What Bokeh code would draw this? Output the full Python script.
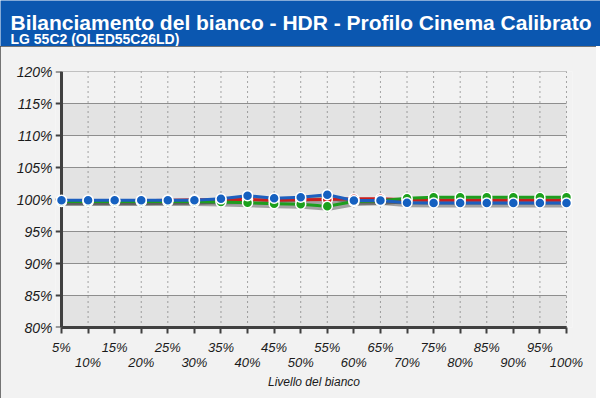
from bokeh.plotting import figure
from bokeh.models import Range1d, FixedTicker
from bokeh.layouts import column
from bokeh.core.properties import value
from bokeh.embed import file_html
from bokeh.resources import INLINE

# ---- data ----
levels = [5, 10, 15, 20, 25, 30, 35, 40, 45, 50, 55, 60, 65, 70, 75, 80, 85, 90, 95, 100]
level_labels = ["5%", "10%", "15%", "20%", "25%", "30%", "35%", "40%", "45%", "50%",
                "55%", "60%", "65%", "70%", "75%", "80%", "85%", "90%", "95%", "100%"]
y_ticks = [80, 85, 90, 95, 100, 105, 110, 115, 120]
y_labels = ["80%", "85%", "90%", "95%", "100%", "105%", "110%", "115%", "120%"]

red = [99.8, 99.8, 99.8, 99.8, 99.9, 99.95, 99.95, 100.0, 99.9, 99.95,
       100.0, 100.1, 100.1, 99.95, 99.9, 99.9, 99.9, 99.9, 99.9, 99.9]
green = [99.7, 99.7, 99.7, 99.7, 99.7, 99.7, 99.6, 99.5, 99.35, 99.25,
         98.95, 99.7, 99.8, 100.2, 100.35, 100.35, 100.35, 100.35, 100.35, 100.35]
blue = [99.9, 99.9, 99.9, 99.9, 99.9, 99.9, 100.1, 100.6, 100.2, 100.35,
        100.75, 99.85, 99.85, 99.5, 99.45, 99.45, 99.45, 99.45, 99.45, 99.45]

title_text = "Bilanciamento del bianco - HDR - Profilo Cinema Calibrato"
subtitle_text = "LG 55C2 (OLED55C26LD)"
x_title = "Livello del bianco"

FONT = "Liberation Sans"
HEADER_BLUE = "#0B57B0"

# ---- header strip ----
h = figure(width=600, height=46, output_backend="svg", toolbar_location=None,
           x_range=Range1d(0, 600), y_range=Range1d(46, 0),
           x_axis_location=None, y_axis_location=None, min_border=0)
h.frame_align = False
h.background_fill_color = HEADER_BLUE
h.border_fill_color = HEADER_BLUE
h.outline_line_color = None
h.grid.visible = False
h.text(x=[10], y=[22], text=[title_text], text_font=value(FONT), text_font_style="bold",
       text_font_size="21px", text_color="white", text_baseline="alphabetic")
h.text(x=[10], y=[38], text=[subtitle_text], text_font=value(FONT), text_font_style="bold",
       text_font_size="14px", text_color="white", text_baseline="alphabetic")

# ---- main chart ----
pad = 1.13  # x units of padding so edge markers are not clipped (~6px)
p = figure(width=596, height=352, output_backend="svg", toolbar_location=None,
           x_range=Range1d(levels[0] - pad, levels[-1] + pad),
           y_range=Range1d(y_ticks[0], y_ticks[-1]),
           min_border_left=55, min_border_right=24, min_border_top=25, min_border_bottom=71)
p.frame_align = False
p.border_fill_color = "#F2F2F2"
p.background_fill_color = "#F2F2F2"
p.outline_line_color = None
p.xgrid.visible = False
p.ygrid.visible = False
p.styles = {"outline": "2px solid #4A4A4A", "outline-offset": "-2px"}

# bands
p.quad(left=levels[0], right=levels[-1], bottom=y_ticks[0:-1:2], top=y_ticks[1::2],
       fill_color="#E3E3E3", line_color=None)
# horizontal grid lines
p.segment(x0=levels[0], x1=levels[-1], y0=y_ticks, y1=y_ticks,
          line_color="#8E8E8E", line_width=1)
# vertical dotted lines
p.segment(x0=levels, x1=levels, y0=y_ticks[0], y1=y_ticks[-1],
          line_color="#555555", line_width=1, line_dash="1 4")

# y axis line and ticks (drawn at the 5% level)
p.segment(x0=levels[0] - pad, x1=levels[0], y0=y_ticks, y1=y_ticks,
          line_color="#404040", line_width=2)
p.segment(x0=levels[0], x1=levels[0], y0=y_ticks[0], y1=y_ticks[-1],
          line_color="#404040", line_width=3)

# shadows
for ser in (red, green, blue):
    p.line([l + 0.3 for l in levels], [v - 0.4 for v in ser],
           line_color="#404040", line_alpha=0.45, line_width=4, line_join="round")

cols = {"red": "#C81E1E", "green": "#1E9E1E", "blue": "#1D5FBF"}
mcols = {"red": "#D01818", "green": "#1CA01C", "blue": "#1560C0"}
series = [("red", red), ("green", green), ("blue", blue)]
for name, ser in series:
    p.line(levels, ser, line_color=cols[name], line_width=3, line_join="round")
for name, ser in series:
    p.scatter(levels, ser, size=10, fill_color=mcols[name], line_color="white", line_width=1.5)

# axes
p.xaxis.ticker = FixedTicker(ticks=levels)
p.xaxis.major_label_overrides = {lv: (lab if i % 2 == 0 else "\n" + lab)
                                 for i, (lv, lab) in enumerate(zip(levels, level_labels))}
p.xaxis.bounds = (levels[0], levels[-1])
p.xaxis.axis_label = x_title
p.yaxis.ticker = FixedTicker(ticks=y_ticks)
p.yaxis.major_label_overrides = {t: lab for t, lab in zip(y_ticks, y_labels)}

for ax in (p.xaxis[0], p.yaxis[0]):
    ax.axis_line_color = "#404040"
    ax.axis_line_width = 3
    ax.major_tick_line_color = "#404040"
    ax.major_tick_line_width = 2
    ax.major_tick_out = 6
    ax.major_tick_in = 0
    ax.minor_tick_line_color = None
    ax.major_label_text_font = FONT
    ax.major_label_text_font_style = "italic"
    ax.major_label_text_color = "#1A1A1A"
    ax.axis_label_text_font = FONT
    ax.axis_label_text_font_style = "italic"
    ax.axis_label_text_color = "#1A1A1A"
p.yaxis.axis_line_color = None
p.yaxis.major_tick_line_color = None
p.yaxis.major_tick_out = 0
p.xaxis.major_label_text_font_size = "13px"
p.xaxis.major_label_text_line_height = 1.0
p.xaxis.major_label_standoff = 6
p.xaxis.axis_label_text_font_size = "12px"
p.xaxis.axis_label_standoff = 2
p.yaxis.major_label_text_font_size = "14px"
p.yaxis.major_label_standoff = 3

layout = column(h, p, spacing=0)
open("out.html", "w").write(file_html(layout, INLINE))
